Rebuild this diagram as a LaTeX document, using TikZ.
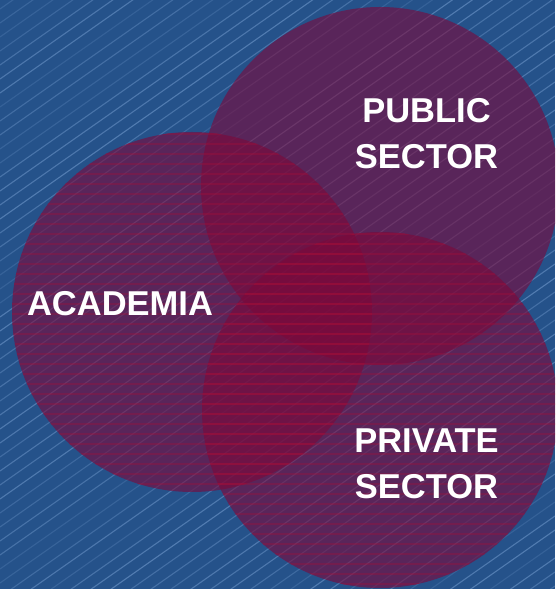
\documentclass[tikz,border=0pt]{standalone}
\usepackage{fontspec}
\setsansfont{Liberation Sans}

\definecolor{backblue}{RGB}{37,82,138}
\definecolor{streak}{RGB}{120,160,210}
\definecolor{vennred}{RGB}{124,8,58}
\definecolor{hatchred}{RGB}{170,14,55}

\begin{document}
\begin{tikzpicture}[
    x=1pt, y=1pt,
    venncircle/.style={circle, fill=vennred, fill opacity=0.6, minimum size=#1, inner sep=0pt},
    sectorname/.style={text=white, font=\sffamily\bfseries\fontsize{34.5}{46}\selectfont, align=center},
    rain/.style={streak, line width=1.1pt},
    hatchline/.style={hatchred, line width=0.6pt},
]

% background with diagonal streaks
\path[use as bounding box] (0,0) rectangle (555,589);
\clip (0,0) rectangle (555,589);
\fill[backblue] (0,0) rectangle (555,589);
\pgfmathsetseed{12}
\foreach \c in {-400,-386,...,600} {
  \pgfmathsetmacro\op{0.2+0.35*rnd}
  \draw[rain, opacity=\op] (0,\c) -- (555,\c+389);
}

% the three sectors
\node[venncircle=360pt] (academia) at (192,277) {};
\node[venncircle=358pt] (public) at (380,403) {};
\node[venncircle=356pt] (private) at (380,179) {};

% ruled fill on academia and private, one group so overlaps stay even
\begin{scope}[transparency group, opacity=0.9]
  \begin{scope}
    \clip (academia.center) circle (180);
    \foreach \y in {5,15,...,455} \draw[hatchline] (0,\y) -- (555,\y);
  \end{scope}
  \begin{scope}
    \clip (private.center) circle (178);
    \foreach \y in {5,15,...,455} \draw[hatchline] (0,\y) -- (555,\y);
  \end{scope}
\end{scope}

\node[sectorname] (academiatext) at (120,285.5) {ACADEMIA};
\node[sectorname] (publictext) at (426.5,455.5) {PUBLIC\\SECTOR};
\node[sectorname] (privatetext) at (426.5,125) {PRIVATE\\SECTOR};

\end{tikzpicture}
\end{document}
